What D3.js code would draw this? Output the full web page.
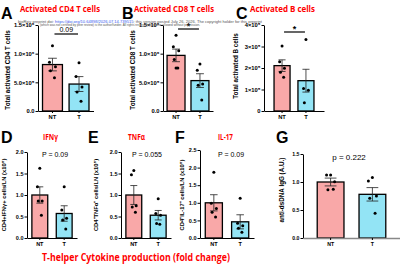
<!DOCTYPE html>
<html>
<head>
<meta charset="utf-8">
<title>Activated cells and cytokines</title>
<script src="https://d3js.org/d3.v7.min.js"></script>
<style>
  body { margin: 0; background: #fff; }
  text { font-family: "Liberation Sans", Arial, sans-serif; }
  .tick text { font-weight: bold; }
</style>
</head>
<body>
<svg id="fig" width="400" height="266"></svg>
<script>
var groups = ["NT", "T"];
var barColors = ["#f9a8a8", "#93e4f5"];

// A - activated CD4 T cells
var cd4Points = [[1.14e6, 0.85e6, 0.77e6, 0.70e6, 0.58e6], [0.84e6, 0.60e6, 0.42e6, 0.33e6, 0.17e6]];
var cd4Means = [0.81e6, 0.47e6];
var cd4Sems = [0.11e6, 0.13e6];
var cd4Ticks = [0, 5e5, 1e6, 1.5e6];
var cd4TickLabels = ["0.0", "5.0×10⁵", "1.0×10⁶", "1.5×10⁶"];

// B - activated CD8 T cells
var cd8Points = [[1.32e6, 1.12e6, 1.05e6, 0.90e6, 0.75e6, 0.75e6], [0.82e6, 0.71e6, 0.47e6, 0.45e6, 0.19e6]];
var cd8Means = [0.97e6, 0.53e6];
var cd8Sems = [0.11e6, 0.12e6];
var cd8Ticks = [0, 5e5, 1e6, 1.5e6];
var cd8TickLabels = ["0.0", "5.0×10⁵", "1.0×10⁶", "1.5×10⁶"];

// C - activated B cells
var bPoints = [[3.02e5, 2.29e5, 1.99e5, 1.80e5, 1.57e5], [3.33e5, 1.05e5, 0.97e5, 0.38e5]];
var bMeans = [2.11e5, 1.41e5];
var bSems = [0.27e5, 0.53e5];
var bTicks = [0, 1e5, 2e5, 3e5, 4e5];
var bTickLabels = ["0", "1×10⁵", "2×10⁵", "3×10⁵", "4×10⁵"];

// D - IFNg
var ifnPoints = [[1.62, 1.19, 0.86, 0.86, 0.53], [1.19, 0.65, 0.46, 0.42, 0.21]];
var ifnMeans = [1.0, 0.57];
var ifnSems = [0.19, 0.18];
// E - TNFa
var tnfPoints = [[1.57, 1.47, 0.75, 0.72, 0.60], [0.91, 0.57, 0.53, 0.34, 0.32]];
var tnfMeans = [1.0, 0.53];
var tnfSems = [0.22, 0.11];
var cytoTicks = [0, 0.5, 1, 1.5, 2];
var cytoTickLabels = ["0.0", "0.5", "1.0", "1.5", "2.0"];
// F - IL-17
var il17Points = [[1.87, 0.99, 0.84, 0.73, 0.60], [1.13, 0.42, 0.35, 0.28, 0.16]];
var il17Means = [1.0, 0.46];
var il17Sems = [0.23, 0.20];
var il17Ticks = [0, 0.5, 1, 1.5, 2, 2.5];
var il17TickLabels = ["0.0", "0.5", "1.0", "1.5", "2.0", "2.5"];

// G - anti-dsDNA IgG
var dsdnaPoints = [[1.125, 1.125, 1.005, 0.86, 0.87], [1.08, 1.02, 0.75, 0.71, 0.44]];
var dsdnaMeans = [1.0, 0.78];
var dsdnaSems = [0.07, 0.12];
var dsdnaTicks = [0, 0.5, 1, 1.5];
var dsdnaTickLabels = ["0.0", "0.5", "1.0", "1.5"];

var svg = d3.select("#fig");
var jitter = [0, -3, 3, -2, 2, 0];

function panel(c) {
  var g = svg.append("g");
  var x = d3.scaleBand().domain(groups).range([c.x0, c.x1])
    .paddingInner(c.pi).paddingOuter(c.po);
  var y = d3.scaleLinear().domain([0, c.yMax]).range([c.yb, c.yt]);
  var bw = x.bandwidth();

  g.selectAll("rect.bar").data(groups).enter().append("rect")
    .attr("x", function(d) { return x(d); })
    .attr("width", bw)
    .attr("y", function(d, i) { return y(c.means[i]); })
    .attr("height", function(d, i) { return y(0) - y(c.means[i]); })
    .attr("fill", function(d, i) { return barColors[i]; })
    .attr("stroke", "#000").attr("stroke-width", 1.3);

  // error bars (mean +/- sem)
  groups.forEach(function(gr, i) {
    var cx = x(gr) + bw / 2, cap = bw * 0.22;
    var lo = y(c.means[i] - c.sems[i]), hi = y(c.means[i] + c.sems[i]);
    g.append("line").attr("x1", cx).attr("x2", cx).attr("y1", lo).attr("y2", hi)
      .attr("stroke", "#222").attr("stroke-width", 0.8);
    [lo, hi].forEach(function(v) {
      g.append("line").attr("x1", cx - cap).attr("x2", cx + cap).attr("y1", v).attr("y2", v)
        .attr("stroke", "#222").attr("stroke-width", 0.8);
    });
    g.selectAll(null).data(c.points[i]).enter().append("circle")
      .attr("cx", function(d, j) { return cx + jitter[j] * bw / 20; })
      .attr("cy", function(d) { return y(d); })
      .attr("r", 1.5).attr("fill", "#000");
  });

  var yAxis = d3.axisLeft(y).tickValues(c.ticks)
    .tickFormat(function(d, i) { return c.tickLabels[i]; })
    .tickSize(2.5).tickSizeOuter(0).tickPadding(1);
  var ya = g.append("g").attr("transform", "translate(" + c.x0 + ",0)").call(yAxis);
  ya.selectAll("text").style("font-size", c.tickFont + "px");

  var xAxis = d3.axisBottom(x).tickSize(2).tickSizeOuter(0).tickPadding(2);
  var xa = g.append("g").attr("transform", "translate(0," + y(0) + ")").call(xAxis);
  xa.selectAll("text").style("font-size", c.tickFont + "px");
  g.selectAll(".domain").attr("stroke-width", 1);
  if (c.grayBase) {
    xa.select(".domain").attr("stroke", "#888").attr("stroke-width", 1.6);
  }

  // y label
  g.append("text")
    .attr("transform", "translate(" + c.labelX + "," + c.labelY + ")rotate(-90)")
    .attr("text-anchor", "middle").attr("fill", "#000")
    .style("font-size", c.labelFont + "px").style("font-weight", "bold")
    .text(c.ylabel);

  // panel letter and title
  g.append("text").attr("x", c.letterX).attr("y", c.letterY).attr("fill", "#000")
    .style("font-size", "16px").style("font-weight", "bold").text(c.letter);
  if (c.title) {
    g.append("text").attr("x", c.titleX).attr("y", c.titleY)
      .attr("textLength", c.titleW).attr("lengthAdjust", "spacingAndGlyphs")
      .style("font-family", "'Open Sans', sans-serif")
      .style("font-size", c.titleFont + "px").style("font-weight", "bold")
      .attr("fill", "#ff0000").text(c.title);
  }

  // significance
  if (c.sigLine) {
    var ax = x("NT") + bw / 2 + 2, bx = x("T") + bw / 2 - 1;
    var star = c.sigText === "*";
    g.append("line").attr("x1", ax).attr("x2", bx).attr("y1", c.sigY).attr("y2", c.sigY)
      .attr("stroke", "#000").attr("stroke-width", 1.2);
    g.append("text").attr("x", (ax + bx) / 2).attr("y", c.sigY - (star ? 0 : 2.5))
      .attr("text-anchor", "middle").attr("fill", "#000")
      .style("font-size", (star ? 9 : 7) + "px")
      .style("font-weight", star ? "bold" : "normal")
      .text(c.sigText);
  }
  if (c.pText) {
    g.append("text").attr("x", c.pX).attr("y", c.pY).attr("text-anchor", "middle")
      .attr("fill", "#000").style("font-size", c.pFont + "px").text(c.pText);
  }
}

// top row
panel({x0: 38, x1: 93.5, pi: 0.25, po: 0.17, yb: 111, yt: 25, yMax: 1.5e6,
  means: cd4Means, sems: cd4Sems, points: cd4Points, ticks: cd4Ticks, tickLabels: cd4TickLabels,
  tickFont: 5.8, ylabel: "Total activated CD4 T cells", labelX: 10, labelY: 70, labelFont: 6.3,
  letter: "A", letterX: 1, letterY: 19, title: "Activated CD4 T cells", titleX: 20, titleY: 12,
  titleW: 80, titleFont: 9.5, sigLine: true, sigY: 34, sigText: "0.09"});
panel({x0: 163, x1: 213, pi: 0.25, po: 0.17, yb: 111, yt: 25, yMax: 1.5e6,
  means: cd8Means, sems: cd8Sems, points: cd8Points, ticks: cd8Ticks, tickLabels: cd8TickLabels,
  tickFont: 5.8, ylabel: "Total activated CD8 T cells", labelX: 135, labelY: 70, labelFont: 6.3,
  letter: "B", letterX: 122, letterY: 19, title: "Activated CD8 T cells", titleX: 134, titleY: 12,
  titleW: 80, titleFont: 9.5, sigLine: true, sigY: 29, sigText: "*"});
panel({x0: 264, x1: 324, pi: 0.33, po: 0.42, yb: 111, yt: 25, yMax: 4e5,
  means: bMeans, sems: bSems, points: bPoints, ticks: bTicks, tickLabels: bTickLabels,
  tickFont: 5.8, ylabel: "Total activated B cells", labelX: 238, labelY: 66, labelFont: 6.3,
  letter: "C", letterX: 236, letterY: 19, title: "Activated B cells", titleX: 250, titleY: 12,
  titleW: 65, titleFont: 9.5, sigLine: true, sigY: 32, sigText: "*"});

// bottom row
panel({x0: 27, x1: 77, pi: 0.35, po: 0.2, yb: 238, yt: 152, yMax: 2,
  means: ifnMeans, sems: ifnSems, points: ifnPoints, ticks: cytoTicks, tickLabels: cytoTickLabels,
  tickFont: 5.5, ylabel: "CD4+IFNγ+ cells/LN (x10⁵)", labelX: 6, labelY: 195, labelFont: 5.8,
  letter: "D", letterX: 1, letterY: 143, title: "IFNγ", titleX: 43, titleY: 140, titleW: 15, titleFont: 8.5,
  pText: "P = 0.09", pX: 55, pY: 157, pFont: 7});
panel({x0: 121, x1: 171, pi: 0.35, po: 0.2, yb: 238, yt: 152, yMax: 2,
  means: tnfMeans, sems: tnfSems, points: tnfPoints, ticks: cytoTicks, tickLabels: cytoTickLabels,
  tickFont: 5.5, ylabel: "CD4⁺TNFα⁺ cells/LN (x10⁵)", labelX: 98, labelY: 195, labelFont: 5.8,
  letter: "E", letterX: 88, letterY: 143, title: "TNFα", titleX: 128, titleY: 140, titleW: 17, titleFont: 8.5,
  pText: "P = 0.055", pX: 147, pY: 157, pFont: 7});
panel({x0: 200, x1: 254, pi: 0.35, po: 0.2, yb: 238, yt: 150, yMax: 2.5,
  means: il17Means, sems: il17Sems, points: il17Points, ticks: il17Ticks, tickLabels: il17TickLabels,
  tickFont: 5.5, ylabel: "CD4⁺IL-17⁺ cells/LN (x10⁵)", labelX: 184, labelY: 195, labelFont: 5.8,
  letter: "F", letterX: 175, letterY: 143, title: "IL-17", titleX: 218, titleY: 140, titleW: 15, titleFont: 8.5,
  pText: "P = 0.09", pX: 231, pY: 157, pFont: 7});
panel({x0: 303, x1: 400, pi: 0.36, po: 0.34, yb: 238, yt: 154, yMax: 1.5, grayBase: true,
  means: dsdnaMeans, sems: dsdnaSems, points: dsdnaPoints, ticks: dsdnaTicks, tickLabels: dsdnaTickLabels,
  tickFont: 5.2, ylabel: "anti-dsDNA IgG (A.U.)", labelX: 284, labelY: 190, labelFont: 6.3,
  letter: "G", letterX: 276, letterY: 143,
  pText: "p = 0.222", pX: 349, pY: 160, pFont: 8});

// bottom caption
svg.append("text").attr("x", 42).attr("y", 261)
  .attr("textLength", 188).attr("lengthAdjust", "spacingAndGlyphs")
  .style("font-family", "'Open Sans', sans-serif").style("font-size", "11px").style("font-weight", "bold")
  .attr("fill", "#ff0000").text("T-helper Cytokine production (fold change)");

// preprint watermark
var wm1 = svg.append("text").attr("x", 18).attr("y", 22.5)
  .attr("textLength", 244).attr("lengthAdjust", "spacingAndGlyphs")
  .style("font-size", "3px").attr("fill", "#555");
wm1.append("tspan").text("bioRxiv preprint doi: ");
wm1.append("tspan").attr("fill", "#3355ee").text("https://doi.org/10.64898/2026.07.14.739515");
wm1.append("tspan").text("; this version posted July 26, 2026. The copyright holder for this preprint");
svg.append("text").attr("x", 40).attr("y", 26)
  .attr("textLength", 160).attr("lengthAdjust", "spacingAndGlyphs")
  .style("font-size", "3px").attr("fill", "#555")
  .text("(which was not certified by peer review) is the author/funder. All rights reserved. No reuse allowed without permission.");
</script>
</body>
</html>
